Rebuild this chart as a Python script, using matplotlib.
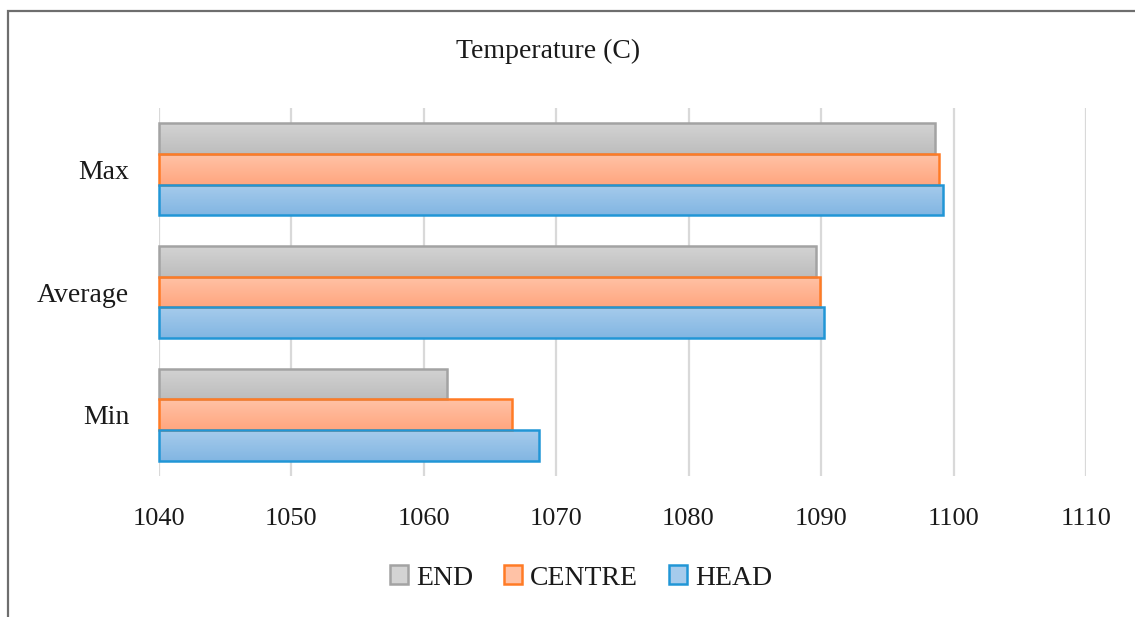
import numpy as np
import matplotlib
matplotlib.use('Agg')
import matplotlib.pyplot as plt
from matplotlib.patches import Patch, Rectangle

# data
categories = ['Min', 'Average', 'Max']
series = ['END', 'CENTRE', 'HEAD']
end_vals = [1061.8, 1089.6, 1098.6]
centre_vals = [1066.7, 1089.9, 1098.9]
head_vals = [1068.7, 1090.2, 1099.2]
x_ticks = [1040, 1050, 1060, 1070, 1080, 1090, 1100, 1110]

plt.rcParams['font.family'] = ['Liberation Serif', 'DejaVu Serif']

# colours: (top of gradient, bottom of gradient, edge)
styles = {
    'END': ('#d3d3d3', '#bdbdbd', '#a3a3a3'),
    'CENTRE': ('#ffc2a6', '#ffa67f', '#ff7b25'),
    'HEAD': ('#a6cbec', '#82b6e2', '#2196d6'),
}

figure = plt.figure(figsize=(11.35, 6.17), dpi=100)
ax = figure.add_axes([158.5 / 1135, 1 - 476 / 617, (1086 - 158.5) / 1135, 368 / 617])

y = np.arange(len(categories))
h = 0.25
offsets = {'END': h, 'CENTRE': 0.0, 'HEAD': -h}
values = {'END': end_vals, 'CENTRE': centre_vals, 'HEAD': head_vals}

for name in series:
    top, bottom, edge = styles[name]
    bars = ax.barh(y + offsets[name], np.array(values[name]) - 1040, left=1040, height=h,
                   color='none', edgecolor=edge, linewidth=1.8, zorder=3)
    # vertical gradient fill clipped to each bar
    grad = np.linspace(0, 1, 64).reshape(-1, 1)
    c_top = np.array(matplotlib.colors.to_rgb(top))
    c_bot = np.array(matplotlib.colors.to_rgb(bottom))
    img = c_top[None, None, :] * (1 - grad[:, :, None]) + c_bot[None, None, :] * grad[:, :, None]
    for b in bars:
        x0, y0 = b.get_x(), b.get_y()
        im = ax.imshow(img, extent=[x0, x0 + b.get_width(), y0, y0 + b.get_height()],
                       origin='upper', aspect='auto', zorder=2, interpolation='bilinear')
        im.set_clip_path(b)
        b.set_clip_on(False)

ax.set_xlim(1040, 1110)
ax.set_ylim(-0.5, 2.5)
ax.set_xticks(x_ticks)
ax.set_yticks(y)
ax.set_yticklabels(categories)
ax.tick_params(axis='both', length=0, colors='#1a1a1a')
ax.tick_params(axis='x', labelsize=19, pad=23)
ax.tick_params(axis='y', labelsize=20, pad=21)
ax.grid(axis='x', color='#d9d9d9', linewidth=1.6, zorder=0)
ax.set_axisbelow(True)
for s in ax.spines.values():
    s.set_visible(False)

figure.text(548 / 1135, 1 - 58 / 617, 'Temperature (C)', ha='center', va='baseline',
            fontsize=20, color='#1a1a1a')

handles = [Patch(facecolor=styles[n][0], edgecolor=styles[n][2], linewidth=1.8, label=n)
           for n in series]
figure.legend(handles=handles, loc='center', bbox_to_anchor=(581 / 1135, 1 - 578 / 617),
              ncol=3, frameon=False, fontsize=20, handlelength=0.65, handleheight=0.65,
              handletextpad=0.3, columnspacing=1.1, labelcolor='#1a1a1a')

# frame round the figure (only top and left edges are visible)
figure.patches.append(Rectangle((8 / 1135, -0.1), 1.2, 1.1 - 11 / 617,
                                transform=figure.transFigure, fill=False,
                                edgecolor='#6e6e6e', linewidth=1.6))

figure.savefig('out.png', dpi=100)
